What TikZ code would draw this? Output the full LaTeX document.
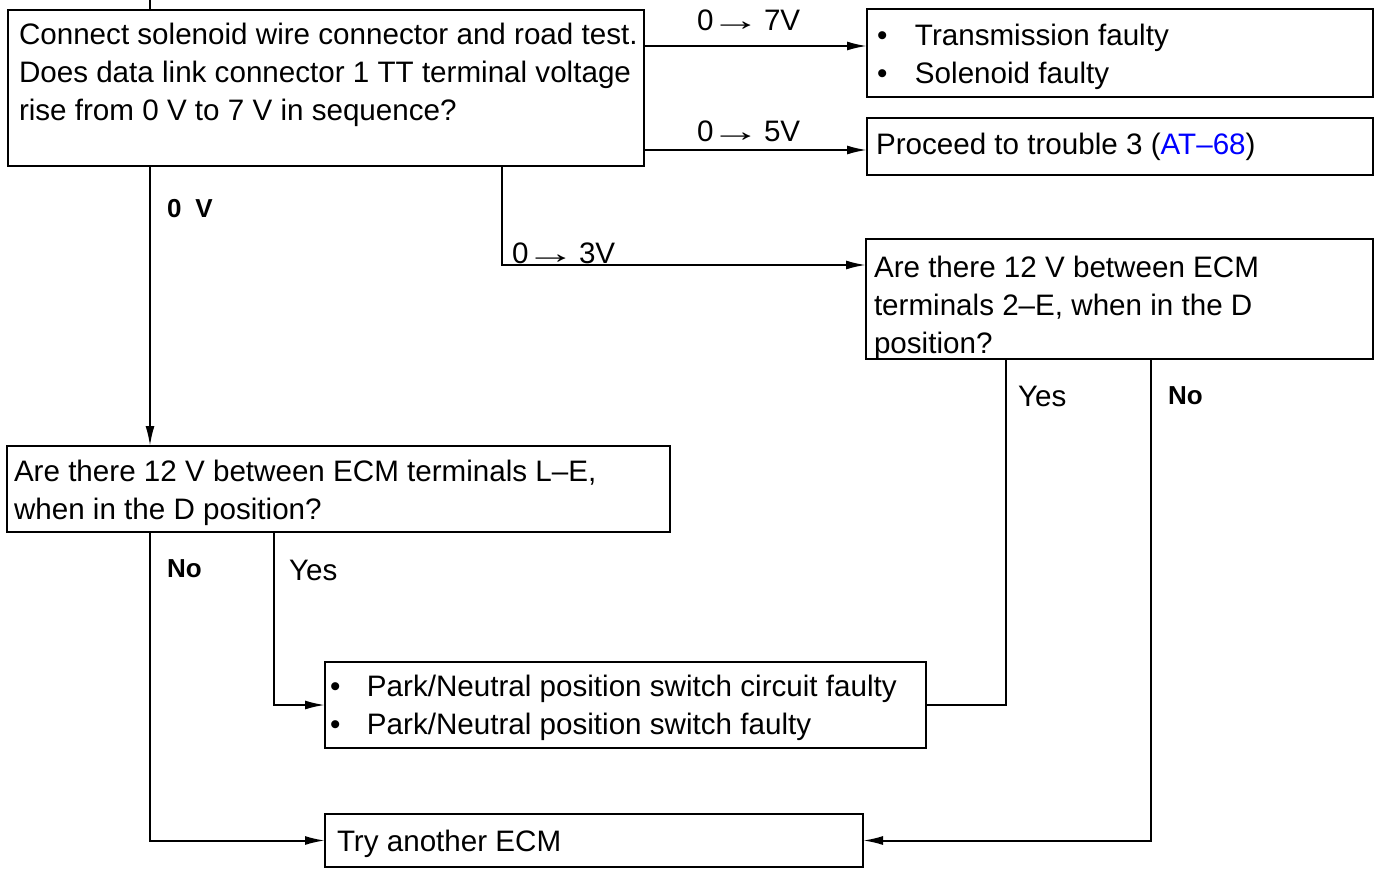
\documentclass[tikz,border=0pt]{standalone}
\usepackage{graphicx}
\usepackage{fontspec}
\setmainfont{Liberation Sans}
\usetikzlibrary{arrows.meta,calc}
\definecolor{linkblue}{RGB}{0,0,255}
\newcommand{\vto}{\kern-3pt\scalebox{1.7}[1]{→}\kern-5pt\ }
\begin{document}
\begin{tikzpicture}[x=1pt,y=-1pt,line width=2pt,
  box/.style={draw,rectangle,inner sep=0,outer sep=0,anchor=north west,line width=2.4pt},
  txt/.style={inner sep=0,outer sep=0,anchor=base west,align=left,font=\fontsize{29.6}{38}\selectfont},
  lblb/.style={inner sep=0,outer sep=0,anchor=base west,font=\fontsize{26}{30}\selectfont\bfseries},
  arr/.style={-{Latex[length=20pt,width=9pt]}},
  conn/.style={line width=2pt}]
\useasboundingbox (0,0) rectangle (1375,869);
% boxes
\node[box,minimum width=636pt,minimum height=156pt] (A) at (8,10) {};
\node[box,minimum width=506pt,minimum height=88pt] (B) at (867,9) {};
\node[box,minimum width=506pt,minimum height=57pt] (C) at (867,118) {};
\node[box,minimum width=507pt,minimum height=120pt] (D) at (866,239) {};
\node[box,minimum width=663pt,minimum height=86pt] (E) at (7,446) {};
\node[box,minimum width=601pt,minimum height=86pt] (F) at (325,662) {};
\node[box,minimum width=538pt,minimum height=53pt] (G) at (325,814) {};
% texts
\node[txt] (At1) at (19,45) {Connect solenoid wire connector and road test.};
\node[txt] (At2) at (19,83) {Does data link connector 1 TT terminal voltage};
\node[txt] (At3) at (19,121) {rise from 0 V to 7 V in sequence?};
\node[txt] (Bt1) at (877,46) {\makebox[38pt][l]{\textbullet}Transmission faulty};
\node[txt] (Bt2) at (877,84) {\makebox[38pt][l]{\textbullet}Solenoid faulty};
\node[txt] (Ct) at (876,155) {Proceed to trouble 3 (\textcolor{linkblue}{AT–68})};
\node[txt] (Dt1) at (874,277) {Are there 12 V between ECM};
\node[txt] (Dt2) at (874,315) {terminals 2–E, when in the D};
\node[txt] (Dt3) at (874,353) {position?};
\node[txt] (Et1) at (14,481) {Are there 12 V between ECM terminals L–E,};
\node[txt] (Et2) at (14,519) {when in the D position?};
\node[txt] (Ft1) at (330,696) {\makebox[37pt][l]{\textbullet}Park/Neutral position switch circuit faulty};
\node[txt] (Ft2) at (330,734) {\makebox[37pt][l]{\textbullet}Park/Neutral position switch faulty};
\node[txt] (Gt) at (337,851) {Try another ECM};
% labels
\node[txt] (L7) at (697,31) {0\vto 7V};
\node[txt] (L5) at (697,142) {0\vto 5V};
\node[txt] (L3) at (512,263) {0\vto 3V};
\node[lblb] (L0) at (167,217) {0\hspace{14pt}V};
\node[lblb] (LEno) at (167,577) {No};
\node[txt] (LEyes) at (289,580) {Yes};
\node[txt] (LDyes) at (1018,406) {Yes};
\node[lblb] (LDno) at (1168,404) {No};
% routing coordinates
\coordinate (top) at (150,0);
\coordinate (k1) at (0,46);
\coordinate (k2) at (0,150);
\coordinate (k3) at (502,265);
\coordinate (k5) at (150,0);
\coordinate (k6) at (274,0);
\coordinate (k7) at (1006,0);
\coordinate (k8) at (1151,0);
% connectors
\draw[conn] (top) -- (top |- A.north);
\draw[conn,arr] (A.east |- k1) -- (B.west |- k1);
\draw[conn,arr] (A.east |- k2) -- (C.west |- k2);
\draw[conn,arr] (A.south -| k3) |- (D.west |- k3);
\draw[conn,arr] (A.south -| k5) -- (E.north -| k5);
\draw[conn,arr] (E.south -| k5) |- (G.west);
\draw[conn,arr] (E.south -| k6) |- (F.west);
\draw[conn] (D.south -| k7) |- (F.east);
\draw[conn,arr] (D.south -| k8) |- (G.east);
\end{tikzpicture}
\end{document}
